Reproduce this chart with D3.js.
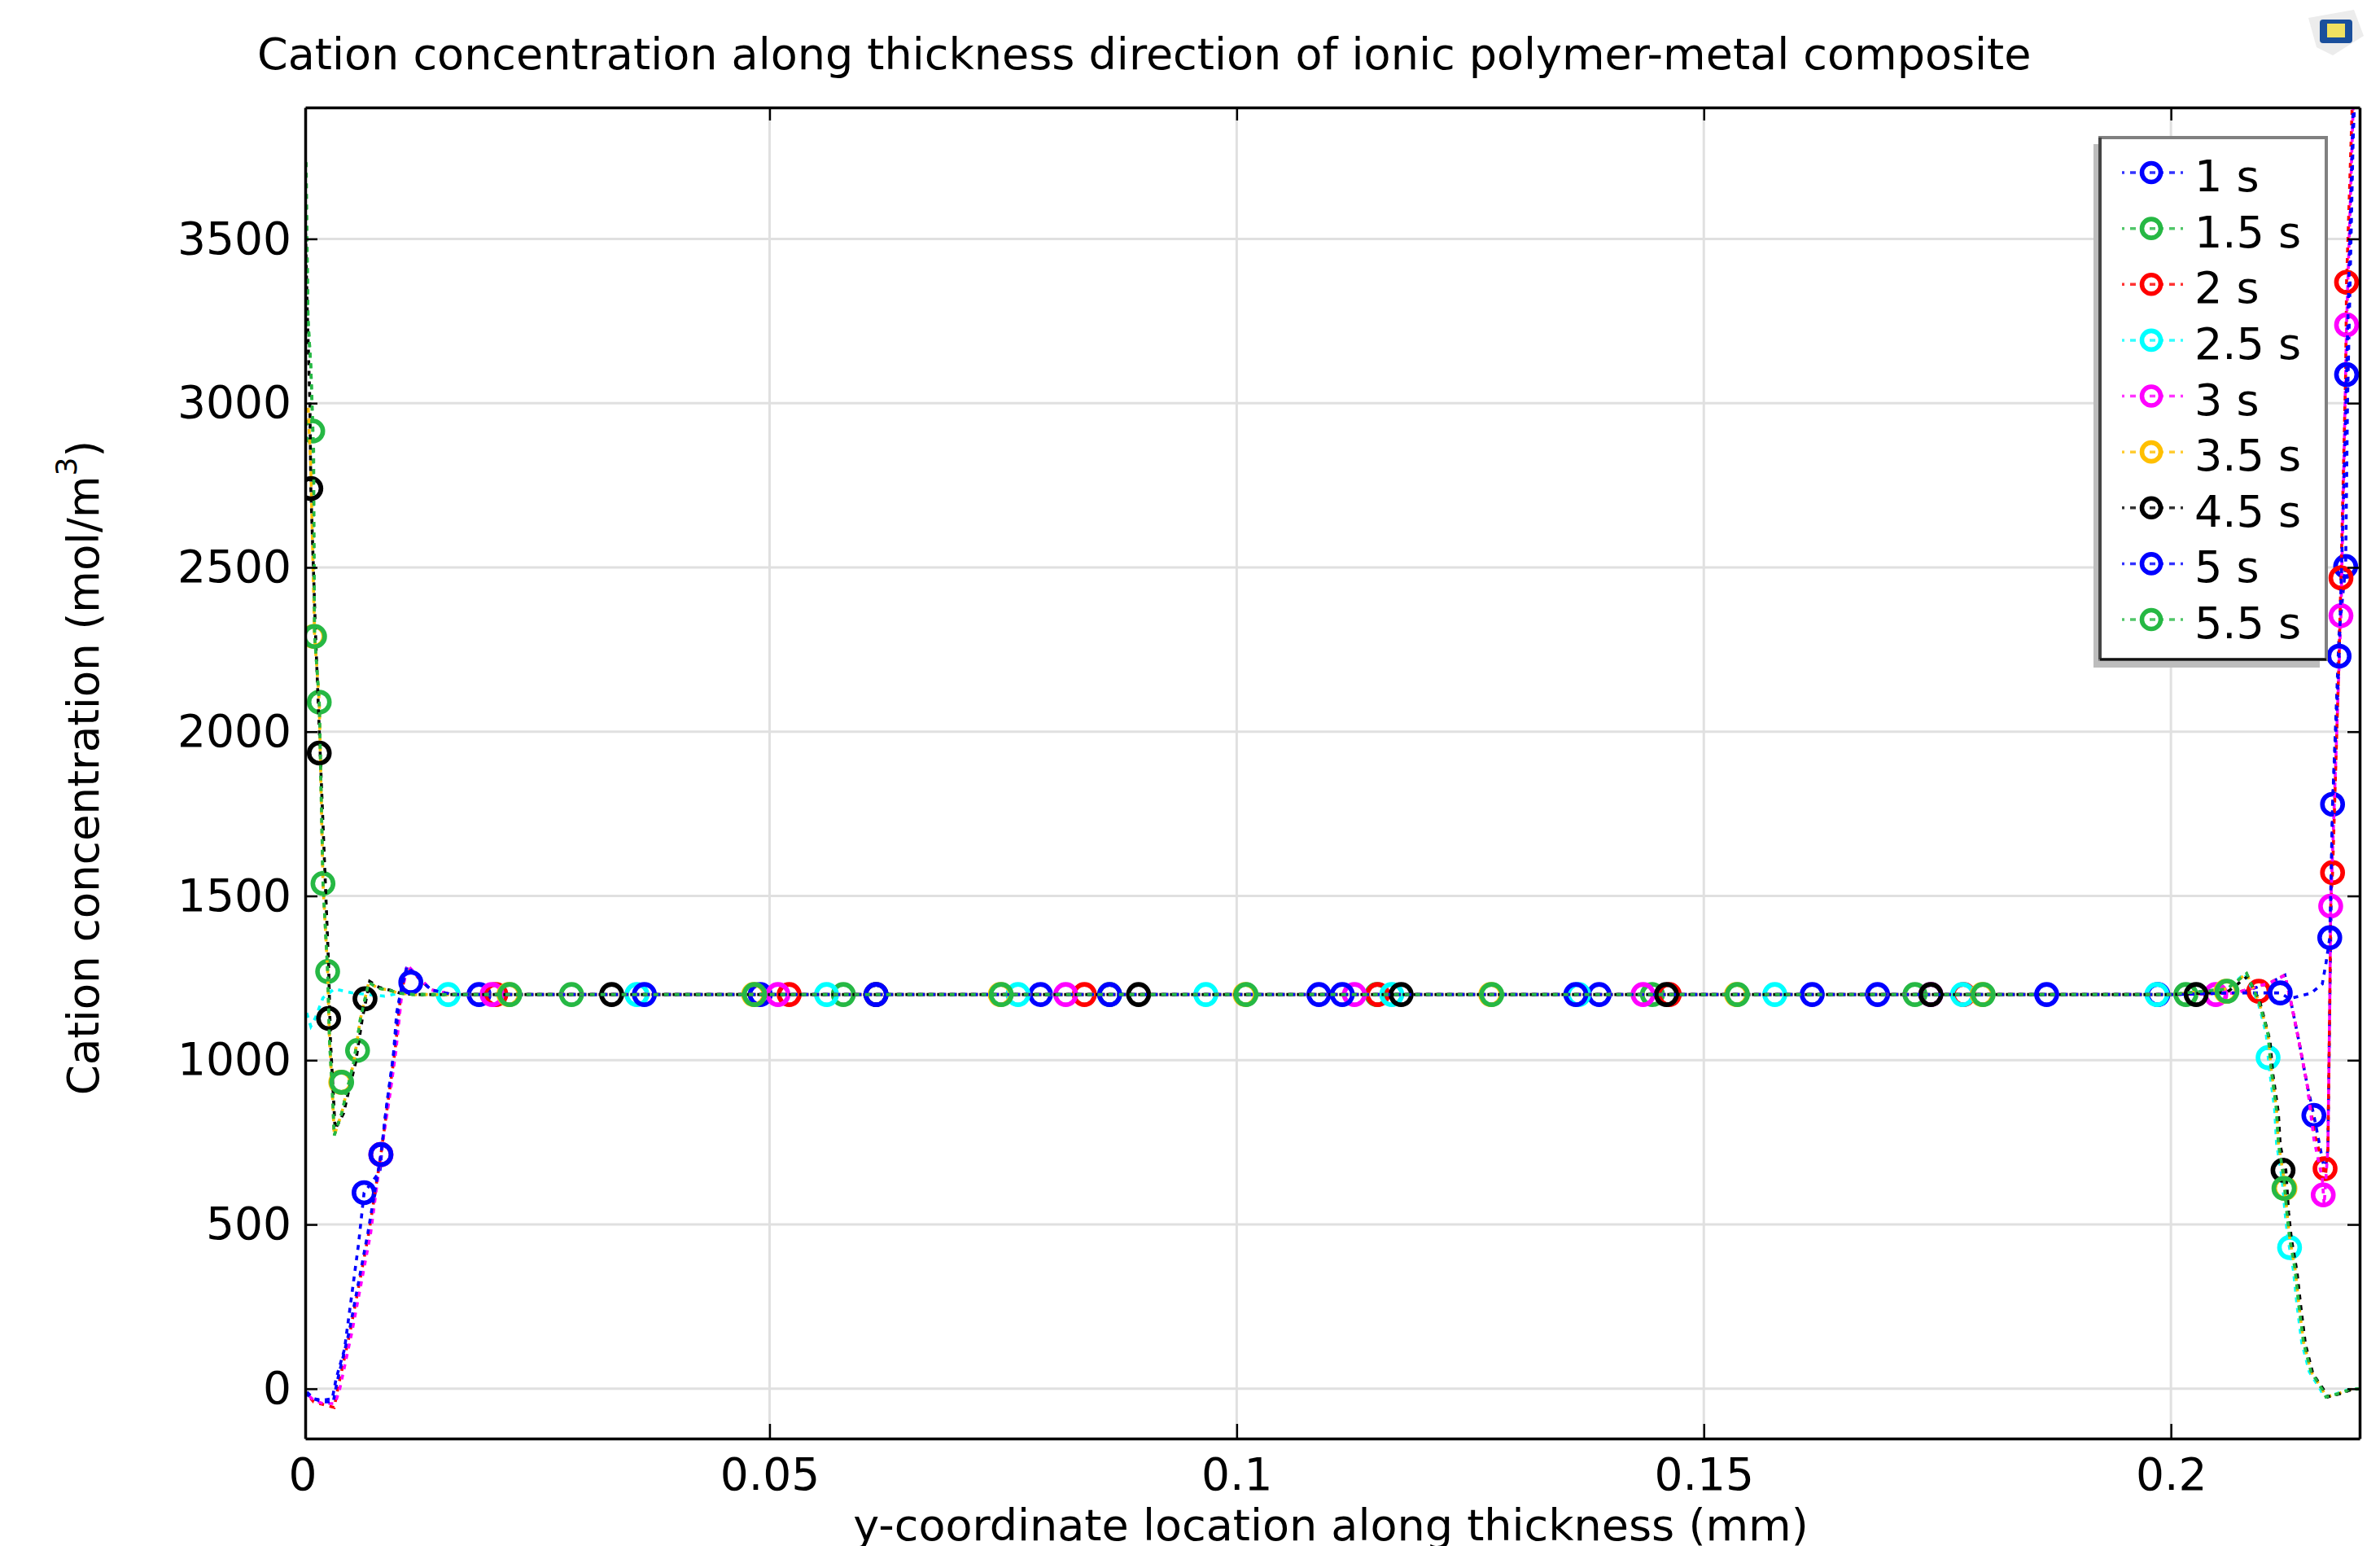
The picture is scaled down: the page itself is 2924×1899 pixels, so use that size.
<!DOCTYPE html>
<html><head><meta charset="utf-8">
<script src="https://cdn.jsdelivr.net/npm/d3@7"></script>
<style>
html,body{margin:0;padding:0;background:#fff;overflow:hidden}
text{font-family:"DejaVu Sans";fill:#000}
</style></head><body>
<script>
const xTicks=[0,0.05,0.1,0.15,0.2];
const xTickLabels=["0","0.05","0.1","0.15","0.2"];
const yTicks=[0,500,1000,1500,2000,2500,3000,3500];
const names=["1 s","1.5 s","2 s","2.5 s","3 s","3.5 s","4.5 s","5 s","5.5 s"];
const colors=["#0000ff","#26b844","#ff0000","#00ffff","#ff00ff","#ffbf00","#000000","#0000ff","#26b844"];

const line1s=[[.0003,-15],[.0012,-30],[.0021,-35],[.0032,-30],[.0036,30],[.0045,120],[.0060,439],[.0066,597],[.0083,662],[.0088,815],[.0097,1004],[.0101,1147],[.0108,1246],[.0112,1286],[.0129,1237],[.0138,1214],[.016,1200],[.2,1200],[.2075,1205],[.2107,1237],[.2122,1259],[.2129,1170],[.2137,1058],[.2146,922],[.2153,832],[.2162,700],[.2165,660],[.2168,729],[.2170,1170],[.2173,1779],[.2180,2300],[.2187,2503],[.2189,3000],[.2195,3800],[.2199,4100]];
const line15s=[[.0004,3600],[.0006,3254],[.0009,3112],[.0011,2915],[.0013,2292],[.0018,2091],[.0022,1539],[.0027,1271],[.0029,1058],[.0032,907],[.0034,771],[.0042,838],[.0047,900],[.0055,994],[.0062,1125],[.0071,1237],[.0081,1219],[.0092,1214],[.0103,1204],[.012,1200],[.2,1200],[.206,1217],[.2081,1264],[.2094,1180],[.2104,1080],[.2107,981],[.2113,850],[.2115,748],[.2121,639],[.2124,540],[.2127,461],[.2133,362],[.2137,253],[.2142,141],[.215,52],[.2162,-2],[.2166,-25],[.2179,-15],[.2192,-2],[.2202,0]];
const line2s=[[.0003,-10],[.0012,-40],[.0021,-47],[.0034,-57],[.0038,2],[.0051,173],[.0071,473],[.0084,713],[.0092,882],[.0099,1026],[.0105,1192],[.0112,1286],[.0129,1237],[.0138,1214],[.016,1200],[.2,1200],[.207,1205],[.2107,1237],[.2122,1259],[.2129,1170],[.2137,1058],[.2146,922],[.2153,783],[.2162,689],[.2165,634],[.2168,729],[.2170,1170],[.2171,1469],[.2173,1571],[.2180,2230],[.2182,2468],[.2187,3088],[.2188,3368],[.2194,3900],[.2196,4080]];
const line25s=[[.0003,1165],[.0005,1140],[.0009,1103],[.0014,1130],[.0022,1190],[.0034,1217],[.0053,1205],[.0088,1195],[.0105,1205],[.012,1200],[.2,1200],[.206,1217],[.2079,1264],[.2093,1180],[.2102,1080],[.2105,981],[.2111,850],[.2113,748],[.2119,639],[.2122,540],[.2125,461],[.2131,362],[.2135,253],[.2140,141],[.2148,52],[.2160,-2],[.2164,-25],[.2177,-15],[.2190,-2],[.2202,0]];
const line3s=[[.0003,-10],[.0012,-35],[.0022,-45],[.0035,-45],[.0040,0],[.0053,173],[.0073,473],[.0084,713],[.0093,882],[.0100,1026],[.0106,1192],[.0112,1290],[.0129,1240],[.0138,1214],[.016,1200],[.2,1200],[.207,1205],[.2107,1237],[.2122,1259],[.2129,1170],[.2137,1058],[.2146,922],[.2153,760],[.2162,640],[.2164,560],[.2168,729],[.2170,1170],[.2171,1469],[.2180,2200],[.2182,2353],[.2188,3238],[.2194,3800],[.2196,4000]];
const line35s=[[.0006,3000],[.0009,2800],[.0013,2292],[.0018,2091],[.0022,1539],[.0027,1271],[.0029,1058],[.0032,907],[.0034,771],[.0042,838],[.0047,900],[.0055,994],[.0062,1125],[.0071,1237],[.0081,1219],[.0092,1214],[.0103,1204],[.012,1200],[.2,1200],[.206,1217],[.2081,1264],[.2094,1180],[.2104,1080],[.2107,981],[.2113,850],[.2115,748],[.2121,639],[.2124,540],[.2127,461],[.2133,362],[.2137,253],[.2142,141],[.215,52],[.2162,-2],[.2166,-25],[.2179,-15],[.2192,-2],[.2202,0]];
const line45s=[[.0003,3560],[.0005,3300],[.0008,3000],[.0009,2740],[.0014,2300],[.0019,1935],[.0028,1290],[.0030,1060],[.0035,790],[.0044,838],[.0049,900],[.0057,994],[.0064,1125],[.0072,1240],[.0082,1222],[.0093,1214],[.0105,1204],[.012,1200],[.2,1200],[.206,1207],[.2082,1255],[.2095,1180],[.2106,1060],[.2109,960],[.2115,840],[.2117,740],[.2123,665],[.2126,535],[.2129,455],[.2135,355],[.2139,250],[.2144,135],[.2152,45],[.2164,-5],[.2168,-25],[.2181,-15],[.2193,-3],[.2202,0]];
const line5s=[[.0003,-5],[.0012,-30],[.0021,-40],[.0033,-40],[.0037,20],[.0050,173],[.0070,473],[.0084,713],[.0091,882],[.0098,1026],[.0104,1192],[.0112,1286],[.0129,1237],[.0138,1214],[.016,1200],[.2,1200],[.207,1205],[.2117,1205],[.2127,1187],[.2150,1204],[.2162,1232],[.2166,1296],[.2170,1373],[.2173,1779],[.2180,2230],[.2187,2950],[.2188,3087],[.2195,3900],[.2198,4100]];
const line55s=[[.0004,3737],[.0006,3254],[.0009,3112],[.0012,2857],[.0013,2292],[.0018,2091],[.0022,1539],[.0027,1271],[.0029,1058],[.0032,907],[.0034,771],[.0042,838],[.0047,900],[.0055,994],[.0062,1125],[.0071,1237],[.0081,1219],[.0092,1214],[.0103,1204],[.012,1200],[.2,1200],[.206,1217],[.2081,1264],[.2094,1180],[.2104,1080],[.2107,981],[.2113,850],[.2115,748],[.2121,639],[.2124,540],[.2127,461],[.2133,362],[.2137,253],[.2142,141],[.215,52],[.2162,-2],[.2166,-25],[.2179,-15],[.2192,-2],[.2202,0]];

const marks1s=[[.0066,597],[.0189,1200],[.049,1200],[.079,1200],[.1088,1200],[.1388,1200],[.1686,1200],[.1986,1200],[.2153,832],[.2173,1779],[.2187,2503]];
const marks15s=[[.0011,2915],[.0018,2090],[.0022,1538],[.0027,1270],[.0059,1030],[.0288,1200],[.0579,1200],[.0864,1200],[.115,1200],[.1445,1200],[.1726,1200],[.2016,1200]];
const marks2s=[[.0084,713],[.0207,1200],[.0521,1200],[.0837,1200],[.1151,1200],[.1463,1200],[.1778,1200],[.2094,1210],[.2165,670],[.2173,1571],[.2182,2468],[.2188,3368]];
const marks25s=[[.0156,1200],[.0358,1200],[.0561,1200],[.0766,1200],[.0967,1200],[.1166,1200],[.1366,1200],[.1576,1200],[.1777,1200],[.1985,1200],[.2104,1008],[.2127,430]];
const marks3s=[[.0084,713],[.0203,1200],[.0509,1200],[.0817,1200],[.1126,1200],[.1435,1200],[.1743,1200],[.2048,1200],[.2163,590],[.2171,1469],[.2182,2353],[.2188,3238]];
const marks35s=[[.0012,2290],[.0041,933],[.0221,1200],[.0483,1200],[.0747,1200],[.1009,1200],[.1272,1200],[.1535,1200],[.1798,1200],[.2059,1210],[.2122,610]];
const marks45s=[[.0009,2740],[.0018,1935],[.0028,1127],[.0067,1187],[.0331,1200],[.0614,1200],[.0895,1200],[.1176,1200],[.146,1200],[.1743,1200],[.2027,1200],[.2120,665]];
const marks5s=[[.0084,713],[.0116,1237],[.0366,1200],[.0614,1200],[.0864,1200],[.1113,1200],[.1363,1200],[.1616,1200],[.1867,1200],[.2117,1205],[.2170,1373],[.2180,2230],[.2188,3087]];
const marks55s=[[.0013,2290],[.0042,933],[.0222,1200],[.0484,1200],[.0748,1200],[.101,1200],[.1273,1200],[.1536,1200],[.1799,1200],[.206,1210],[.2121,610]];

const lines=[line1s,line15s,line2s,line25s,line3s,line35s,line45s,line5s,line55s];
const marks=[marks1s,marks15s,marks2s,marks25s,marks3s,marks35s,marks45s,marks5s,marks55s];

const W=2924,H=1899,L=375,R=2899,T=132,B=1767;
const x=d3.scaleLinear().domain([0.0003,0.2202]).range([L,R]);
const y=d3.scaleLinear().domain([-151.5,3900]).range([B,T]);
const svg=d3.select("body").append("svg").attr("width",W).attr("height",H).style("display","block");
svg.append("defs").append("clipPath").attr("id","plot").append("rect").attr("x",L).attr("y",T).attr("width",R-L).attr("height",B-T);

svg.append("text").attr("x",316).attr("y",85).attr("font-size",54).text("Cation concentration along thickness direction of ionic polymer-metal composite");

const grid=svg.append("g").attr("stroke","#e0e0e0").attr("stroke-width",3);
grid.selectAll("line.v").data(xTicks.slice(1)).join("line").attr("class","v").attr("x1",d=>x(d)).attr("x2",d=>x(d)).attr("y1",T).attr("y2",B);
grid.selectAll("line.h").data(yTicks).join("line").attr("class","h").attr("x1",L).attr("x2",R).attr("y1",d=>y(d)).attr("y2",d=>y(d));

const plot=svg.append("g").attr("clip-path","url(#plot)");
const lineGen=d3.line().x(d=>x(d[0])).y(d=>y(d[1]));
names.forEach((n,i)=>{
  plot.append("path").attr("d",lineGen(lines[i])).attr("fill","none").attr("stroke",colors[i]).attr("stroke-width",3.6)
    .attr("stroke-dasharray","6 7").attr("stroke-dashoffset",i*1.45);
  plot.selectAll(null).data(marks[i]).join("circle").attr("cx",d=>x(d[0])).attr("cy",d=>y(d[1])).attr("r",12.5)
    .attr("fill","none").attr("stroke",colors[i]).attr("stroke-width",5.6);
});

function style(g){g.select(".domain").attr("stroke","#000").attr("stroke-width",3.5);g.selectAll(".tick line").attr("stroke","#000").attr("stroke-width",2.5);g.selectAll("text").attr("font-family","DejaVu Sans").attr("font-size",55).attr("fill","#000");}
const fmt=d=>xTickLabels[xTicks.indexOf(d)];
const gb=svg.append("g").attr("transform",`translate(0,${B})`).call(d3.axisBottom(x).tickValues(xTicks).tickFormat(fmt).tickSizeInner(-18).tickSizeOuter(0).tickPadding(24));
style(gb);
gb.selectAll(".tick").filter(d=>d===0).select("line").remove();
const gt=svg.append("g").attr("transform",`translate(0,${T})`).call(d3.axisTop(x).tickValues(xTicks.slice(1)).tickFormat("").tickSizeInner(-16).tickSizeOuter(0));
style(gt);
const gl=svg.append("g").attr("transform",`translate(${L},0)`).call(d3.axisLeft(y).tickValues(yTicks).tickSizeInner(-15).tickSizeOuter(0).tickPadding(17).tickFormat(d3.format("d")));
style(gl);
const gr=svg.append("g").attr("transform",`translate(${R},0)`).call(d3.axisRight(y).tickValues(yTicks).tickFormat("").tickSizeInner(-15).tickSizeOuter(0));
style(gr);

svg.append("text").attr("x",1635).attr("y",1892).attr("text-anchor","middle").attr("font-size",54).text("y-coordinate location along thickness (mm)");
const yl=svg.append("text").attr("transform","translate(121,943) rotate(-90)").attr("text-anchor","middle").attr("font-size",53);
yl.append("tspan").text("Cation concentration (mol/m");
yl.append("tspan").attr("dy",-27).attr("font-size",36).text("3");
yl.append("tspan").attr("dy",27).text(")");

// legend
const lg=svg.append("g");
lg.append("rect").attr("x",2572).attr("y",177).attr("width",278).attr("height",643).attr("fill","#bdbdbd");
lg.append("rect").attr("x",2580).attr("y",169).attr("width",278).attr("height",641).attr("fill","#fff").attr("stroke","#808080").attr("stroke-width",4);
lg.append("line").attr("x1",2580).attr("x2",2580).attr("y1",169).attr("y2",810).attr("stroke","#444").attr("stroke-width",4);
lg.append("line").attr("x1",2580).attr("x2",2858).attr("y1",810).attr("y2",810).attr("stroke","#111").attr("stroke-width",3);
const legendY=d3.scalePoint().domain(names).range([212,761]);
names.forEach((n,i)=>{
  const yy=legendY(n);
  lg.append("line").attr("x1",2607).attr("x2",2683).attr("y1",yy).attr("y2",yy).attr("stroke",colors[i]).attr("stroke-width",3.5).attr("stroke-dasharray","3 7 7 7").attr("stroke-opacity",.8);
  lg.append("circle").attr("cx",2643).attr("cy",yy).attr("r",11.5).attr("fill","none").attr("stroke",colors[i]).attr("stroke-width",5.6);
  lg.append("text").attr("x",2696).attr("y",yy+23).attr("font-size",54).text(n);
});

// toolbar icon
const ic=svg.append("g");
ic.append("path").attr("d","M2836 22 L2892 12 L2904 44 L2866 68 L2846 58 Z").attr("fill","#ececec");
ic.append("rect").attr("x",2850).attr("y",24).attr("width",40).attr("height",29).attr("rx",4).attr("fill","#1a4f9c");
ic.append("rect").attr("x",2859).attr("y",29).attr("width",22).attr("height",17).attr("fill","#f0e060");
</script>
</body></html>
